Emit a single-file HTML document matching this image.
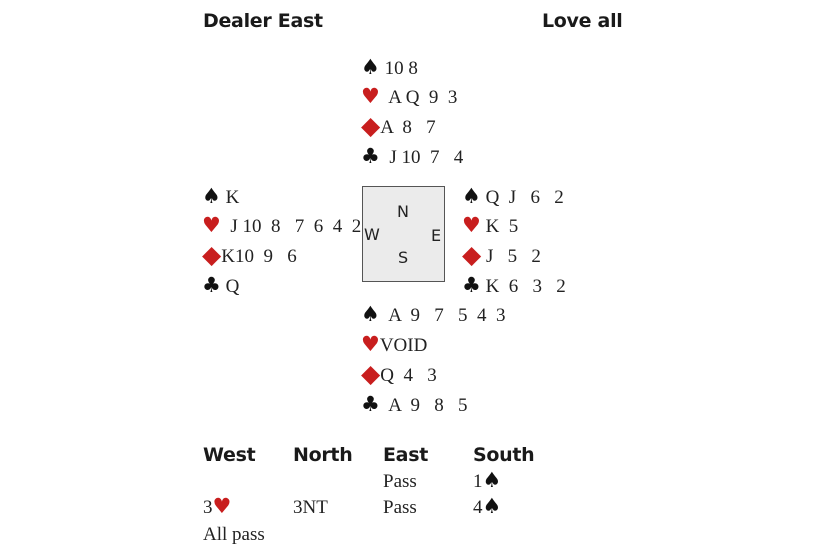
<!DOCTYPE html>
<html><head><meta charset="utf-8"><style>
body{margin:0;width:820px;height:550px;background:#fff;position:relative;overflow:hidden}
.t{position:absolute;font-family:"Liberation Serif",serif;font-size:19px;line-height:20px;height:20px;color:#222;white-space:pre}
.h{position:absolute;font-family:"DejaVu Sans","Liberation Sans",sans-serif;font-weight:bold;font-size:19px;line-height:22px;color:#1a1a1a;white-space:pre;letter-spacing:-0.3px}
.s{font-family:"DejaVu Sans",sans-serif;font-size:21px;line-height:1px;color:#111}
.d{font-family:"DejaVu Sans",sans-serif;font-size:25px;line-height:1px;color:#c81e1e;position:relative;top:1px}
.r{color:#c81e1e}
.box{position:absolute;left:362px;top:186px;width:81px;height:94px;background:#ebebeb;border:1.5px solid #555}
.c{position:absolute;font-family:"DejaVu Sans","Liberation Sans",sans-serif;font-size:16px;color:#222;line-height:16px}
</style></head><body>
<div class="h" style="left:203px;top:10px">Dealer East</div>
<div class="h" style="left:542px;top:10px">Love all</div>

<div class="t" style="left:361px;top:59px"><span class="s">♠</span> 10 8</div>
<div class="t" style="left:361px;top:88px"><span class="s r">♥</span>  A Q  9  3</div>
<div class="t" style="left:361px;top:118px"><span class="d">◆</span>A  8   7</div>
<div class="t" style="left:361px;top:148px"><span class="s">♣</span>  J 10  7   4</div>

<div class="t" style="left:202px;top:188px"><span class="s">♠</span> K</div>
<div class="t" style="left:202px;top:217px"><span class="s r">♥</span>  J 10  8   7  6  4  2</div>
<div class="t" style="left:202px;top:247px"><span class="d">◆</span>K10  9   6</div>
<div class="t" style="left:202px;top:277px"><span class="s">♣</span> Q</div>

<div class="box"></div>
<div class="c" style="left:397px;top:204px">N</div>
<div class="c" style="left:364px;top:227px">W</div>
<div class="c" style="left:431px;top:228px">E</div>
<div class="c" style="left:398px;top:250px">S</div>

<div class="t" style="left:462px;top:188px"><span class="s">♠</span> Q  J   6   2</div>
<div class="t" style="left:462px;top:217px"><span class="s r">♥</span> K  5</div>
<div class="t" style="left:462px;top:247px"><span class="d">◆</span> J   5   2</div>
<div class="t" style="left:462px;top:277px"><span class="s">♣</span> K  6   3   2</div>

<div class="t" style="left:361px;top:306px"><span class="s">♠</span>  A  9   7   5  4  3</div>
<div class="t" style="left:361px;top:336px"><span class="s r">♥</span>VOID</div>
<div class="t" style="left:361px;top:366px"><span class="d">◆</span>Q  4   3</div>
<div class="t" style="left:361px;top:396px"><span class="s">♣</span>  A  9   8   5</div>

<div class="h" style="left:203px;top:444px">West</div>
<div class="h" style="left:293px;top:444px">North</div>
<div class="h" style="left:383px;top:444px">East</div>
<div class="h" style="left:473px;top:444px">South</div>
<div class="t" style="left:383px;top:472px">Pass</div>
<div class="t" style="left:473px;top:472px">1<span class="s">♠</span></div>
<div class="t" style="left:203px;top:498px">3<span class="s r">♥</span></div>
<div class="t" style="left:293px;top:498px">3NT</div>
<div class="t" style="left:383px;top:498px">Pass</div>
<div class="t" style="left:473px;top:498px">4<span class="s">♠</span></div>
<div class="t" style="left:203px;top:525px">All pass</div>
</body></html>
